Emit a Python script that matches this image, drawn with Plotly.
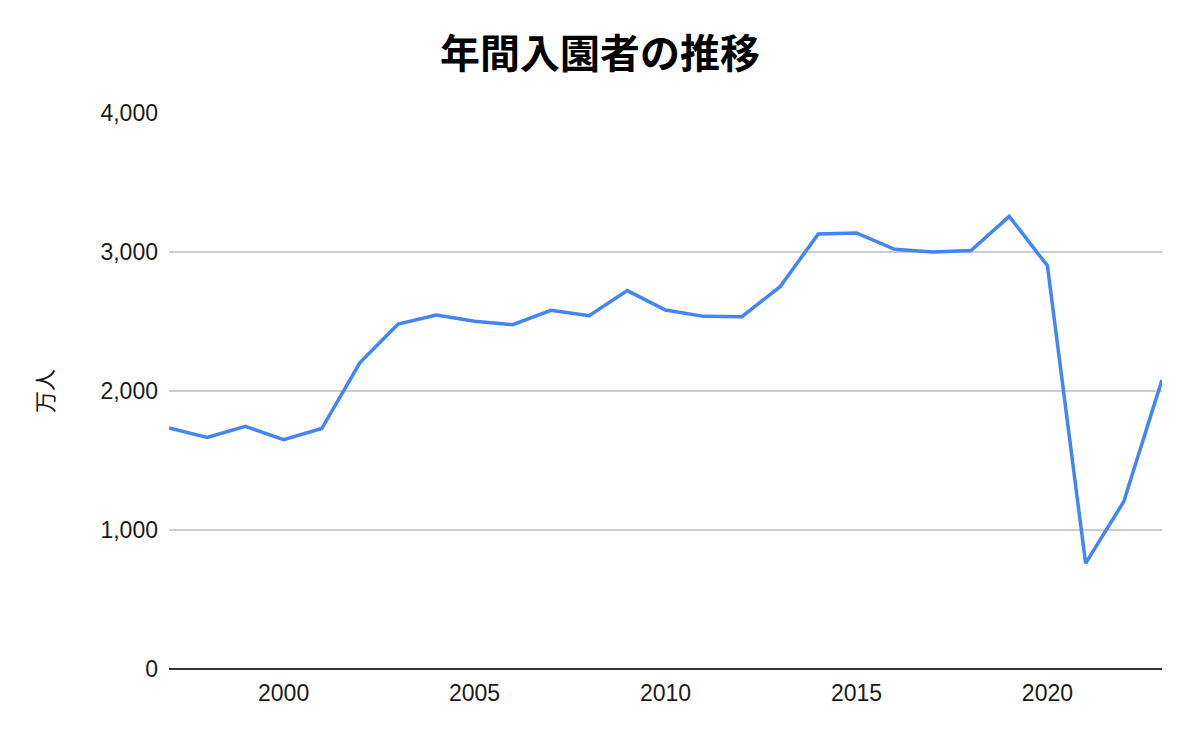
import plotly.graph_objects as go

years = list(range(1997, 2024))
visitors = [1734, 1666, 1745, 1650, 1730, 2204, 2482, 2547, 2502, 2477,
            2581, 2542, 2722, 2582, 2537, 2535, 2750, 3130, 3137, 3019,
            3000, 3010, 3256, 2901, 760, 1205, 2080]
x_ticks = [2000, 2005, 2010, 2015, 2020]
y_ticks = [0, 1000, 2000, 3000, 4000]

title_text = "年間入園者の推移"
y_title = "万人"

fig = go.Figure()
fig.add_trace(go.Scatter(
    x=years, y=visitors, mode="lines",
    line=dict(color="#4285F4", width=3.5),
    hoverinfo="x+y", showlegend=False,
))

font_main = "Liberation Sans, Arial, sans-serif"
fig.update_layout(
    width=1200, height=742,
    paper_bgcolor="white", plot_bgcolor="white",
    margin=dict(l=161, r=46, t=105, b=81),
    title=dict(
        text=f"<b>{title_text}</b>",
        x=0.4933, xanchor="center", y=0.938, yanchor="middle",
        font=dict(family="Noto Sans CJK JP, sans-serif", size=40, color="#000000"),
    ),
    font=dict(family=font_main, size=23, color="#1a1a1a"),
    xaxis=dict(
        range=[1997, 2023], tickvals=x_ticks, ticktext=[str(v) for v in x_ticks],
        showgrid=False, zeroline=False, showline=False, ticks="",
        ticklabelstandoff=8,
        tickfont=dict(family=font_main, size=23, color="#1a1a1a"),
        fixedrange=True,
    ),
    yaxis=dict(
        range=[0, 4000], tickvals=y_ticks, tickformat=",",
        showgrid=True, gridcolor="#CCCCCC", gridwidth=1.5,
        zeroline=True, zerolinecolor="#333333", zerolinewidth=2,
        showline=False, ticks="", ticklabelstandoff=10,
        tickfont=dict(family=font_main, size=23, color="#1a1a1a"),
        title=dict(text=y_title, standoff=40,
                   font=dict(family="Noto Sans CJK JP, sans-serif", size=22, color="#1a1a1a")),
        fixedrange=True,
    ),
)

fig.write_html("out.html")
